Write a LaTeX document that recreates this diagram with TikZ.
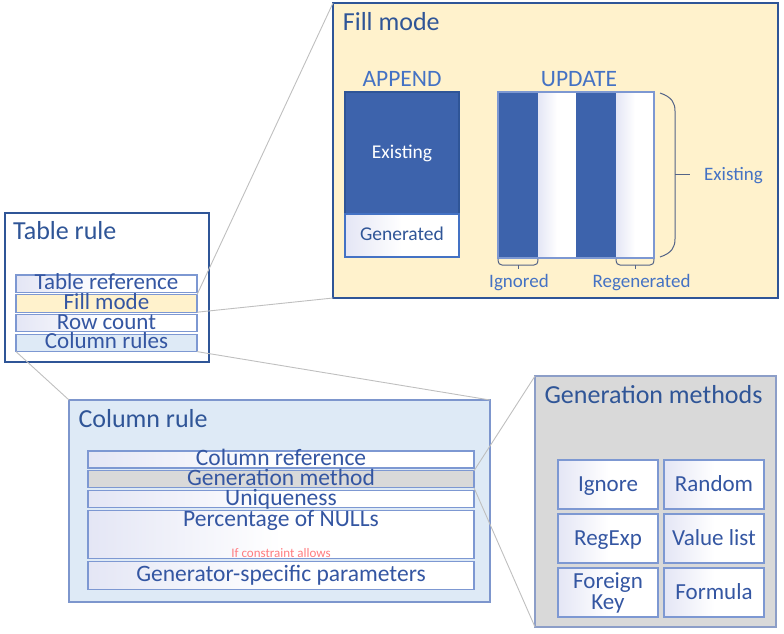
\documentclass[tikz,border=0pt]{standalone}
\usepackage{fontspec}
\setmainfont{Carlito}
\usetikzlibrary{positioning}

\definecolor{titleblue}{RGB}{47,85,151}
\definecolor{rowtext}{RGB}{52,86,162}
\definecolor{labelblue}{RGB}{68,114,196}
\definecolor{darkfill}{RGB}{61,99,172}
\definecolor{fieldline}{RGB}{125,152,210}
\definecolor{panelline}{RGB}{47,85,151}
\definecolor{colline}{RGB}{125,150,205}
\definecolor{genline}{RGB}{140,158,200}
\definecolor{yellowfill}{RGB}{255,242,204}
\definecolor{bluefill}{RGB}{222,234,246}
\definecolor{grayfill}{RGB}{217,217,217}
\definecolor{gradlav}{RGB}{228,230,245}
\definecolor{linegray}{RGB}{191,191,191}
\definecolor{bracecol}{RGB}{84,100,135}
\definecolor{notered}{RGB}{255,124,128}

\tikzstyle{panel} = [rectangle, inner sep=0pt, outer sep=0pt, line width=1.3pt]
\tikzstyle{paneltitle} = [anchor=base west, inner sep=0pt, text=titleblue, font=\fontsize{26}{28}\selectfont]
\tikzstyle{field} = [rectangle, draw=fieldline, line width=1.1pt, inner sep=0pt, outer sep=0pt, text=rowtext, text height=14pt, text depth=2pt, font=\fontsize{23}{25}\selectfont]
\tikzstyle{lavshade} = [left color=gradlav, right color=white, middle color=white]
\tikzstyle{tabrow} = [field, minimum width=181pt, minimum height=17.5pt]
\tikzstyle{colrow} = [field, minimum width=386pt, minimum height=17pt, font=\fontsize{23.5}{25}\selectfont]
\tikzstyle{rowlabel} = [inner sep=0pt, text=rowtext, text height=14pt, text depth=2pt, font=\fontsize{23.5}{25}\selectfont]
\tikzstyle{note} = [inner sep=0pt, text=notered, font=\fontsize{13}{14}\selectfont]
\tikzstyle{cell} = [field, lavshade, minimum width=100pt, minimum height=49pt, text height=17pt, text depth=2.6pt]
\tikzstyle{block} = [rectangle, inner sep=0pt, outer sep=0pt, line width=1.1pt, minimum width=114pt, minimum height=122pt, text height=13pt, text depth=3pt, font=\fontsize{19.5}{21}\selectfont]
\tikzstyle{strip} = [rectangle, inner sep=0pt, outer sep=0pt, minimum height=166pt]
\tikzstyle{darkstrip} = [strip, fill=darkfill, draw=darkfill]
\tikzstyle{lightstrip} = [strip, lavshade]
\tikzstyle{modetitle} = [anchor=base, inner sep=0pt, text=labelblue, font=\fontsize{23.5}{25}\selectfont]
\tikzstyle{sidelabel} = [anchor=base, inner sep=0pt, text=labelblue, font=\fontsize{19}{21}\selectfont]
\tikzstyle{brace} = [draw=bracecol, line width=1pt]
\tikzstyle{zoomline} = [draw=linegray, line width=0.9pt]

\begin{document}
\begin{tikzpicture}[x=1pt, y=-1pt]
\useasboundingbox (0,0) rectangle (784,633);

% Table rule
\node(tabrule) [panel, draw=panelline, fill=white, minimum width=204pt, minimum height=149pt] at (107,287.5) {};
\node(tabtitle) [paneltitle] at ([xshift=8pt,yshift=-26pt]tabrule.north west) {Table rule};
\node(tabref) [tabrow, lavshade] at (106.5,283.75) {Table reference};
\node(fillrow) [tabrow, fill=yellowfill, below=2.2pt of tabref] {Fill mode};
\node(rowcount) [tabrow, lavshade, below=2.2pt of fillrow] {Row count};
\node(colrows) [tabrow, fill=bluefill, below=2.2pt of rowcount] {Column rules};

% Fill mode
\node(fillbox) [panel, draw=panelline, fill=yellowfill, minimum width=445pt, minimum height=295pt] at (555.5,150.5) {};
\node(filltitle) [paneltitle] at ([xshift=9.7pt,yshift=-27pt]fillbox.north west) {Fill mode};

\node(existblk) [block, fill=darkfill, draw=panelline, text=white] at (402,153) {Existing};
\node(genblk) [block, lavshade, draw=labelblue, text=titleblue, minimum height=43pt, below=0pt of existblk] {Generated};
\node(appendlbl) [modetitle] at ([yshift=6pt]existblk.north) {APPEND};

\node(updblock) [strip, minimum width=156pt] at (576,175) {};
\node(strip1) [darkstrip, minimum width=40pt, anchor=west] at (updblock.west) {};
\node(strip2) [lightstrip, minimum width=38pt, right=0pt of strip1] {};
\node(strip3) [darkstrip, minimum width=40pt, right=0pt of strip2] {};
\node(strip4) [lightstrip, minimum width=38pt, right=0pt of strip3] {};
\draw [draw=fieldline, line width=1.1pt] (updblock.north west) rectangle (updblock.south east);
\node(updatelbl) [modetitle] at ([xshift=3pt,yshift=6pt]updblock.north) {UPDATE};

% braces
\draw [brace] ([xshift=6pt,yshift=-1pt]updblock.north east) .. controls +(12pt,-4pt) and +(0pt,8pt) .. ([xshift=21pt,yshift=-19pt]updblock.north east) -- ([xshift=21pt,yshift=19pt]updblock.south east) .. controls +(0pt,-8pt) and +(12pt,4pt) .. ([xshift=6pt,yshift=1pt]updblock.south east);
\coordinate(bracetip) at ([xshift=36pt,yshift=1pt]updblock.east);
\draw [brace] ([xshift=21pt,yshift=1pt]updblock.east) -- (bracetip);
\node(existlbl) [sidelabel, anchor=base west] at ([xshift=14pt,yshift=-6pt]bracetip) {Existing};

\draw [brace] ([yshift=-1pt]strip1.south west) .. controls +(0pt,-5pt) and +(-2pt,0pt) .. ([xshift=4pt,yshift=-7pt]strip1.south west) -- ([xshift=-4pt,yshift=-7pt]strip1.south east) .. controls +(2pt,0pt) and +(0pt,-5pt) .. ([yshift=-1pt]strip1.south east);
\draw [brace] ([yshift=-7pt]strip1.south) -- ([yshift=-11pt]strip1.south);
\node(ignlbl) [sidelabel] at ([xshift=1pt,yshift=-29pt]strip1.south) {Ignored};

\draw [brace] ([yshift=-1pt]strip4.south west) .. controls +(0pt,-5pt) and +(-2pt,0pt) .. ([xshift=4pt,yshift=-7pt]strip4.south west) -- ([xshift=-4pt,yshift=-7pt]strip4.south east) .. controls +(2pt,0pt) and +(0pt,-5pt) .. ([yshift=-1pt]strip4.south east);
\draw [brace] ([yshift=-7pt]strip4.south) -- ([yshift=-11pt]strip4.south);
\node(regenlbl) [sidelabel] at ([xshift=6.5pt,yshift=-29pt]strip4.south) {Regenerated};

% Column rule
\node(colrule) [panel, draw=colline, fill=bluefill, minimum width=421pt, minimum height=202pt] at (279.5,501) {};
\node(coltitle) [paneltitle] at ([xshift=9.3pt,yshift=-27.3pt]colrule.north west) {Column rule};
\node(colref) [colrow, lavshade] at (281,459.5) {Column reference};
\node(genrow) [colrow, fill=grayfill, below=2.8pt of colref] {Generation method};
\node(unique) [colrow, lavshade, below=2.8pt of genrow] {Uniqueness};
\node(nulls) [colrow, lavshade, minimum height=48pt, below=2.8pt of unique] {};
\node(nullstxt) [rowlabel, below=1.5pt of nulls.north] {Percentage of NULLs};
\node(nullsnote) [note, above=0.5pt of nulls.south] {If constraint allows};
\node(genparams) [colrow, lavshade, minimum height=28pt, below=2.8pt of nulls] {Generator-specific parameters};

% Generation methods
\node(genbox) [panel, draw=genline, fill=grayfill, minimum width=241pt, minimum height=251pt] at (655.5,501.5) {};
\node(gentitle) [paneltitle, anchor=base] at ([xshift=-2pt,yshift=-27pt]genbox.north) {Generation methods};
\node(ignore) [cell] at (608,484.5) {Ignore};
\node(random) [cell, right=6pt of ignore] {Random};
\node(regexp) [cell, below=5pt of ignore] {RegExp};
\node(vallist) [cell, below=5pt of random] {Value list};
\node(foreign) [cell, below=5pt of regexp, text height=, text depth=, align=center, font=\fontsize{23}{21}\selectfont] {Foreign\\Key};
\node(formula) [cell, below=5pt of vallist] {Formula};

% zoom lines
\draw [zoomline] (fillrow.north east) -- (fillbox.north west);
\draw [zoomline] (fillrow.south east) -- (fillbox.south west);
\draw [zoomline] (colrows.south west) -- (colrule.north west);
\draw [zoomline] (colrows.south east) -- (colrule.north east);
\draw [zoomline] (genrow.north east) -- (genbox.north west);
\draw [zoomline] (genrow.south east) -- (genbox.south west);

\end{tikzpicture}
\end{document}
